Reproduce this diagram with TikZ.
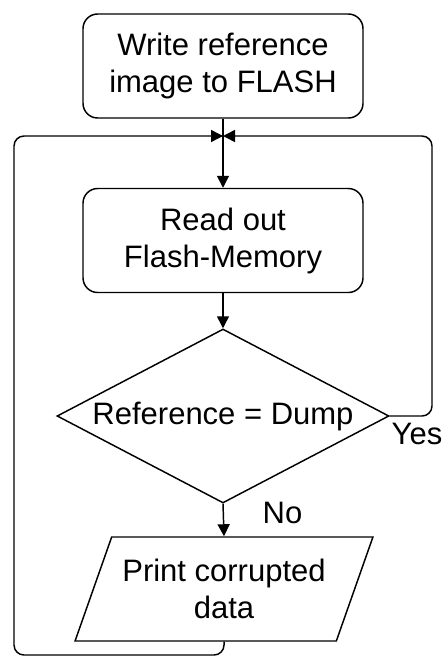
\documentclass[tikz,border=0pt]{standalone}
\usepackage{fontspec}
\setmainfont{Liberation Sans}
\usetikzlibrary{shapes.geometric,arrows.meta}
\begin{document}
\begin{tikzpicture}[x=0.75pt,y=-0.75pt,
  font=\fontsize{23.25pt}{27.75pt}\selectfont,
  line width=1.1pt,
  box/.style={draw, rounded corners=11pt, minimum width=210pt, minimum height=78pt,
    align=center, inner sep=0pt},
  decision/.style={draw, diamond, aspect=1.9, minimum width=249pt, minimum height=130.5pt,
    inner sep=0pt},
  io/.style={draw, trapezium, trapezium left angle=61, trapezium right angle=119,
    trapezium stretches=true, minimum width=223.5pt, minimum height=78pt,
    align=center, inner sep=0pt},
  flow/.style={-{Triangle[length=9pt,width=9pt]}},
  loop/.style={flow, rounded corners=7.5pt},
  lbl/.style={anchor=north west, inner sep=0pt}]
  \path[use as bounding box] (0,0) rectangle (442,657);

  % process steps
  \node[box] (write) at (223,66) {Write reference\\image to FLASH};
  \node[box] (read) at (223,240.5) {Read out\\Flash-Memory};
  \node[decision] (cmp) at (223,416) {Reference = Dump};
  \node[io] (print) at (224,589) {Print corrupted\\data};

  % merge point above the read step
  \coordinate (join) at (223,136);

  % main flow
  \draw[flow] (write.south) -- (read.north);
  \draw[flow] (read.south) -- (cmp.north);
  \draw[flow] (cmp.south) -- (print.north);

  % loop back on success
  \draw[loop] (cmp.east) -- (432,416) -- (432,136) -- (join);
  % loop back after printing
  \draw[loop] (print.south) -- (224,655) -- (14,655) -- (14,136) -- (join);

  % branch labels
  \node[lbl] (yes) at (391,422) {Yes};
  \node[lbl] (no) at (262,501) {No};
\end{tikzpicture}
\end{document}
